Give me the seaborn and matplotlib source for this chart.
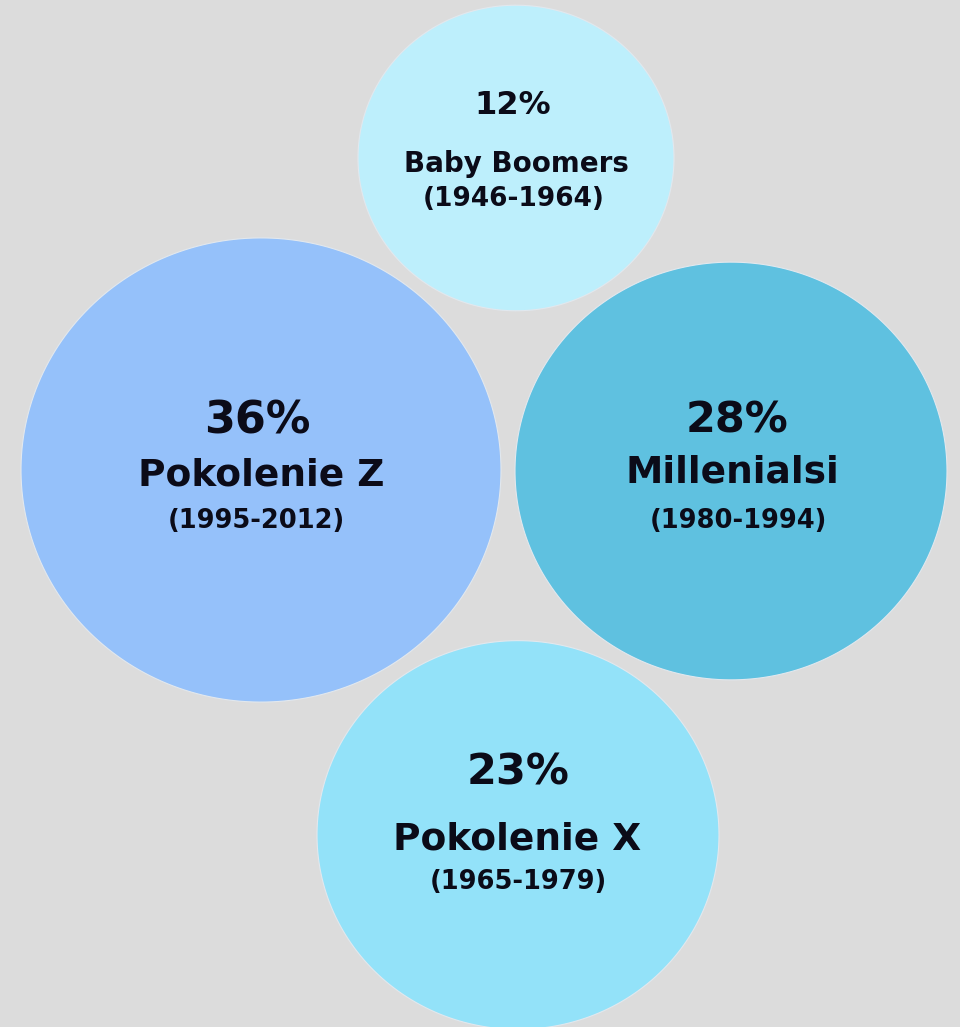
#!/usr/bin/env python3
# coding: utf-8

import numpy as np
import pandas as pd
import seaborn as sns
import matplotlib
from matplotlib import pyplot as plt
from matplotlib.path import Path

# data
generations = ["Baby Boomers", "Pokolenie Z", "Millenialsi", "Pokolenie X"]
shares = [12, 36, 28, 23]
years = ["(1946-1964)", "(1995-2012)", "(1980-1994)", "(1965-1979)"]
colors = ["#bdeffc", "#95c1fa", "#5fc1e0", "#93e2f9"]

# layout (pixels, figure is 960x1027)
centers_x = [516, 261, 731, 518]
centers_y = [158, 470, 471, 835]
radii = [158, 240, 216, 201]

pct_xy = [(513, 103), (257, 418), (737, 417), (518, 769)]
name_xy = [(516, 162), (261, 472), (732, 469), (517, 836)]
year_xy = [(514, 197), (256, 519), (738, 519), (518, 880)]
pct_fs = [23, 32, 31, 31]
name_fs = [20, 27, 27, 27]
year_fs = [19, 18.5, 18.5, 18.5]

BG = "#dcdcdc"
INK = "#0b0b18"
DPI = 100

sns.set_style("white")
plt.rcParams['font.family'] = ['DejaVu Sans']

fig = plt.figure(figsize=[9.6, 10.27], dpi=DPI, facecolor=BG)
ax = fig.add_axes([0, 0, 1, 1])
ax.set_facecolor(BG)

df = pd.DataFrame({"generation": generations, "share": shares,
                   "x": centers_x, "y": centers_y})

# slightly squashed circle, like the source picture
t = np.linspace(0, 2 * np.pi, 240)
ellipse = Path(np.column_stack([np.cos(t), 0.967 * np.sin(t)]), closed=True)

px2pt = 72.0 / DPI
sizes = {g: (2 * r * px2pt) ** 2 for g, r in zip(generations, radii)}
palette = dict(zip(generations, colors))

sns.scatterplot(data=df, x="x", y="y", hue="generation", size="generation",
                palette=palette, sizes=sizes, marker=ellipse,
                edgecolor="#e2e8ee", linewidth=0.8, alpha=1.0,
                legend=False, ax=ax)

ax.set_xlim(0, 960)
ax.set_ylim(1027, 0)
ax.set_axis_off()


def put(xy, s, fs):
    # xy is where the middle of the capitals should sit
    px = fs / px2pt
    ax.text(xy[0], xy[1] + 0.36 * px, s, ha="center", va="baseline",
            fontsize=fs, fontweight="bold", color=INK)


for i in range(len(generations)):
    put(pct_xy[i], "%d%%" % shares[i], pct_fs[i])
    put(name_xy[i], generations[i], name_fs[i])
    put(year_xy[i], years[i], year_fs[i])

plt.savefig("out.png", dpi=DPI, facecolor=BG)
